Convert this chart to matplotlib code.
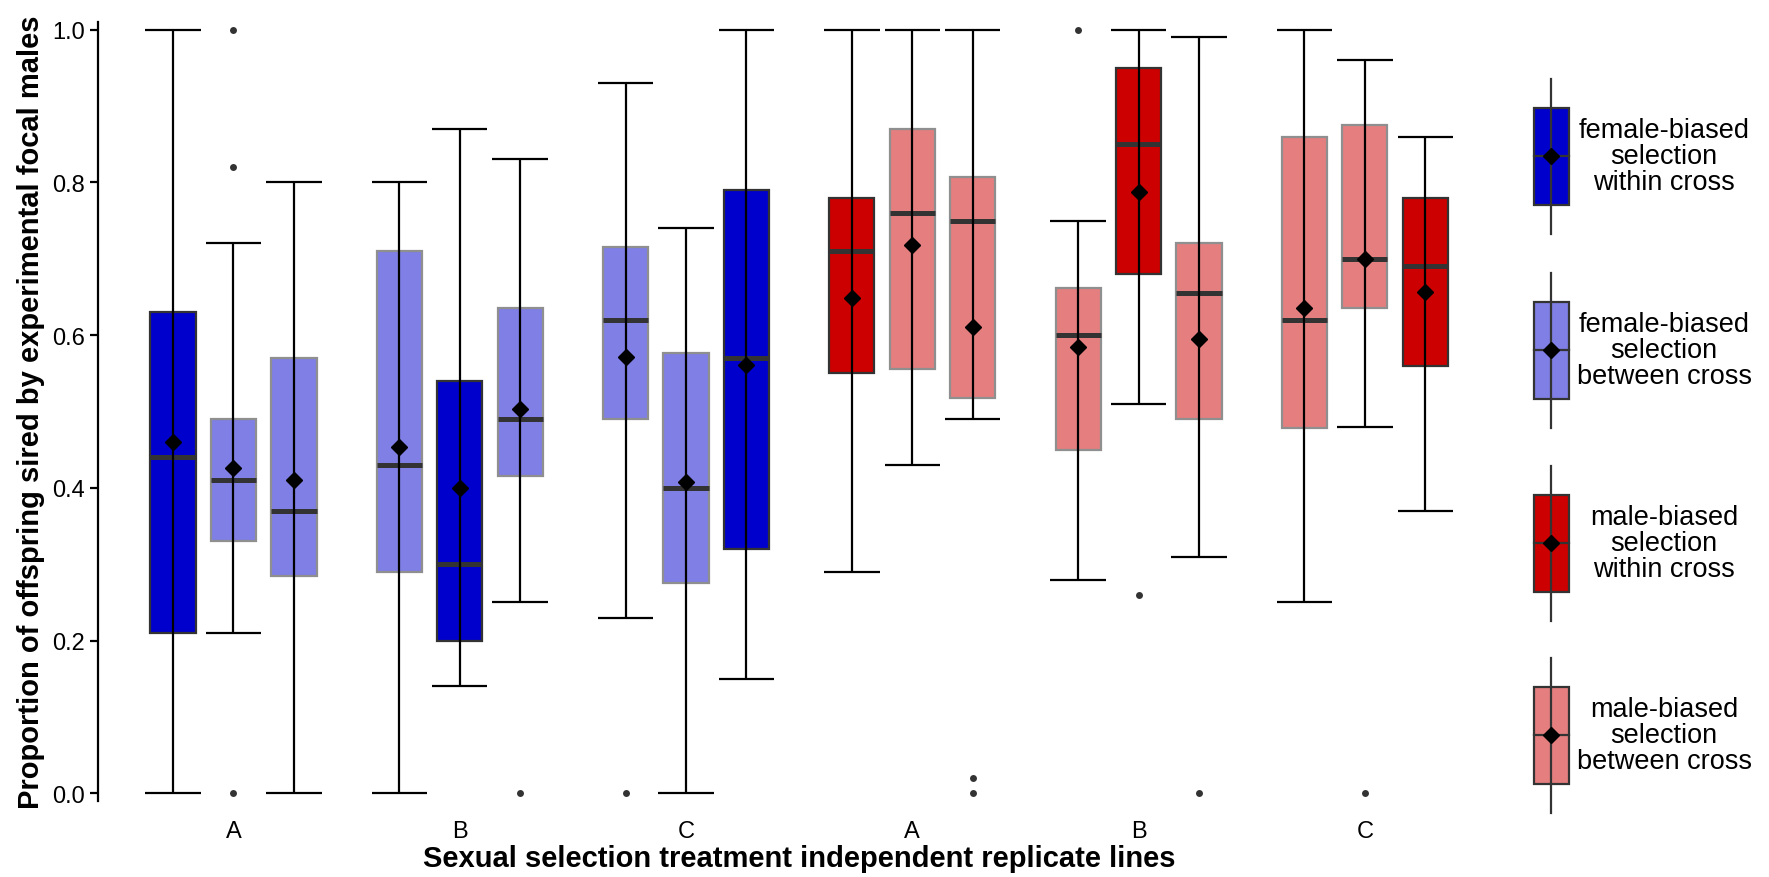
import numpy as np
import matplotlib
matplotlib.use("Agg")
import matplotlib.pyplot as plt
from matplotlib.patches import Rectangle

plt.rcParams['font.family'] = ['Liberation Sans', 'DejaVu Sans']

# x categories (3 replicate lines per treatment, female-biased then male-biased)
lines = ['A', 'B', 'C', 'A', 'B', 'C']

# 3 boxes per category, left to right; "W" = within cross, "B" = between cross
kind = [['W', 'B', 'B'], ['B', 'W', 'B'], ['B', 'B', 'W'],
        ['W', 'B', 'B'], ['B', 'W', 'B'], ['B', 'B', 'W']]
sex = ['F', 'F', 'F', 'M', 'M', 'M']

whisk_lo = [[0.00, 0.21, 0.00], [0.00, 0.14, 0.25], [0.23, 0.00, 0.15],
            [0.29, 0.43, 0.49], [0.28, 0.51, 0.31], [0.25, 0.48, 0.37]]
q1 = [[0.21, 0.33, 0.285], [0.29, 0.20, 0.416], [0.49, 0.275, 0.32],
      [0.55, 0.555, 0.518], [0.45, 0.68, 0.49], [0.478, 0.635, 0.56]]
med = [[0.44, 0.41, 0.37], [0.43, 0.30, 0.49], [0.62, 0.40, 0.57],
       [0.71, 0.76, 0.75], [0.60, 0.85, 0.655], [0.62, 0.70, 0.69]]
q3 = [[0.63, 0.49, 0.57], [0.71, 0.54, 0.635], [0.715, 0.577, 0.79],
      [0.78, 0.87, 0.807], [0.662, 0.95, 0.72], [0.86, 0.875, 0.78]]
whisk_hi = [[1.00, 0.72, 0.80], [0.80, 0.87, 0.83], [0.93, 0.74, 1.00],
            [1.00, 1.00, 1.00], [0.75, 1.00, 0.99], [1.00, 0.96, 0.86]]
means = [[0.46, 0.426, 0.41], [0.454, 0.40, 0.503], [0.571, 0.408, 0.561],
         [0.648, 0.718, 0.61], [0.585, 0.788, 0.595], [0.635, 0.70, 0.656]]
outliers = [[[], [1.0, 0.82, 0.0], []], [[], [], [0.0]], [[0.0], [], []],
            [[], [], [0.02, 0.0]], [[1.0], [0.26], [0.0]], [[], [0.0], []]]

legend_labels = ['female-biased\nselection\nwithin cross',
                 'female-biased\nselection\nbetween cross',
                 'male-biased\nselection\nwithin cross',
                 'male-biased\nselection\nbetween cross']

colors = {('F', 'W'): '#0000CC', ('F', 'B'): '#7F7FE5',
          ('M', 'W'): '#CC0000', ('M', 'B'): '#E57F7F'}
edges = {'W': '#333333', 'B': '#8F8F8F'}

fig = plt.figure(figsize=(17.69, 8.78), dpi=100)
ax = fig.add_axes([97.7 / 1769, 1 - 802 / 878, (1500.6 - 97.7) / 1769, (802 - 23) / 878])

dodge = 0.267
box_w = 0.2
cap_w = 0.245

for i in range(len(lines)):
    for j in range(3):
        x = i + 1 + (j - 1) * dodge
        k = kind[i][j]
        ax.add_patch(Rectangle((x - box_w / 2, q1[i][j]), box_w, q3[i][j] - q1[i][j],
                               facecolor=colors[(sex[i], k)], edgecolor=edges[k],
                               linewidth=1.6, zorder=2))
        ax.plot([x - box_w / 2, x + box_w / 2], [med[i][j], med[i][j]],
                color='#333333', linewidth=3.6, solid_capstyle='butt', zorder=3)
        ax.vlines(x, whisk_lo[i][j], whisk_hi[i][j], color='black', linewidth=1.6, zorder=4)
        ax.hlines([whisk_lo[i][j], whisk_hi[i][j]], x - cap_w / 2, x + cap_w / 2,
                  color='black', linewidth=1.6, zorder=4)
        if outliers[i][j]:
            ax.plot([x] * len(outliers[i][j]), outliers[i][j], 'o', color='#333333',
                    markersize=5, markeredgewidth=0, zorder=4)
        ax.plot(x, means[i][j], 'D', color='black', markersize=8.5, zorder=5)

ax.set_xlim(0.4, 6.6)
ax.set_ylim(-0.01, 1.01)
ax.set_xticks(range(1, 7))
ax.set_xticklabels(lines)
ax.set_yticks([0, 0.2, 0.4, 0.6, 0.8, 1.0])
ax.set_yticklabels(['0.0', '0.2', '0.4', '0.6', '0.8', '1.0'])
ax.tick_params(axis='x', length=0, labelsize=17, pad=14)
ax.tick_params(axis='y', length=6, width=1.6, labelsize=17, pad=3)
for s in ['top', 'right', 'bottom']:
    ax.spines[s].set_visible(False)
ax.spines['left'].set_linewidth(1.6)
ax.set_xlabel('Sexual selection treatment independent replicate lines',
              fontsize=21, fontweight='bold', labelpad=1)
ax.set_ylabel('Proportion of offspring sired by experimental focal males',
              fontsize=21, fontweight='bold', labelpad=5)

# legend drawn by hand in pixel coordinates
lg = fig.add_axes([1500 / 1769, 0, 269 / 1769, 1])
lg.set_xlim(1500, 1769)
lg.set_ylim(878, 0)
lg.axis('off')
key_cols = [colors[('F', 'W')], colors[('F', 'B')], colors[('M', 'W')], colors[('M', 'B')]]
key_top = [109, 303, 496, 688]
for c, t, lab in zip(key_cols, key_top, legend_labels):
    cy = t + 48
    lg.plot([1551, 1551], [t - 29, t + 126], color='#333333', linewidth=1.6)
    lg.add_patch(Rectangle((1533.5, t), 35, 97, facecolor=c, edgecolor='#333333', linewidth=1.6))
    lg.plot([1533.5, 1568.5], [cy, cy], color='#333333', linewidth=1.6)
    lg.plot(1551, cy, 'D', color='black', markersize=8.5)
    lg.text(1664, cy, lab, ha='center', va='center', fontsize=19.5, linespacing=1.0)

fig.savefig('out.png', dpi=100)
